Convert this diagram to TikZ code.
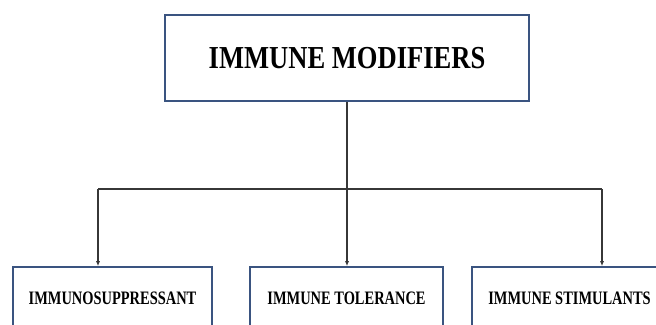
\documentclass[tikz,border=0pt]{standalone}
\usepackage{fontspec}
\setmainfont{Liberation Serif}
\usetikzlibrary{arrows.meta}
\definecolor{boxblue}{RGB}{58,84,128}
\definecolor{linegray}{RGB}{55,55,55}
\newcommand{\narrow}[2]{\scalebox{#1}[1]{#2}}
\tikzstyle{topbox}=[rectangle,draw=boxblue,line width=1.6pt,fill=white,minimum width=364pt,minimum height=86pt,font=\fontsize{32}{36}\selectfont\bfseries]
\tikzstyle{subbox}=[rectangle,draw=boxblue,line width=1.6pt,fill=white,minimum height=62pt,font=\fontsize{19}{22}\selectfont\bfseries]
\tikzstyle{link}=[draw=linegray,line width=1.1pt]

\begin{document}
\begin{tikzpicture}[x=1pt,y=-1pt,>={Latex[length=5pt,width=4pt]}]
  \clip (0,0) rectangle (656,324);
  \node[topbox] (modifiers) at (347,58){\narrow{0.83}{IMMUNE MODIFIERS}};
  \node[subbox,minimum width=199pt] (suppress) at (112.5,298){\narrow{0.76}{IMMUNOSUPPRESSANT}};
  \node[subbox,minimum width=193pt] (tolerance) at (346.5,298){\narrow{0.76}{IMMUNE TOLERANCE}};
  \node[subbox,minimum width=195pt] (stimulant) at (569.5,298){\narrow{0.76}{IMMUNE STIMULANTS}};
  \coordinate (leftturn) at (98,189);
  \coordinate (rightturn) at (602,189);
  \draw[link] (leftturn)--(rightturn);
  \draw[link,->] (modifiers.south)--(modifiers.south |- tolerance.north);
  \draw[link,->] (leftturn)--(leftturn |- suppress.north);
  \draw[link,->] (rightturn)--(rightturn |- stimulant.north);
\end{tikzpicture}
\end{document}
